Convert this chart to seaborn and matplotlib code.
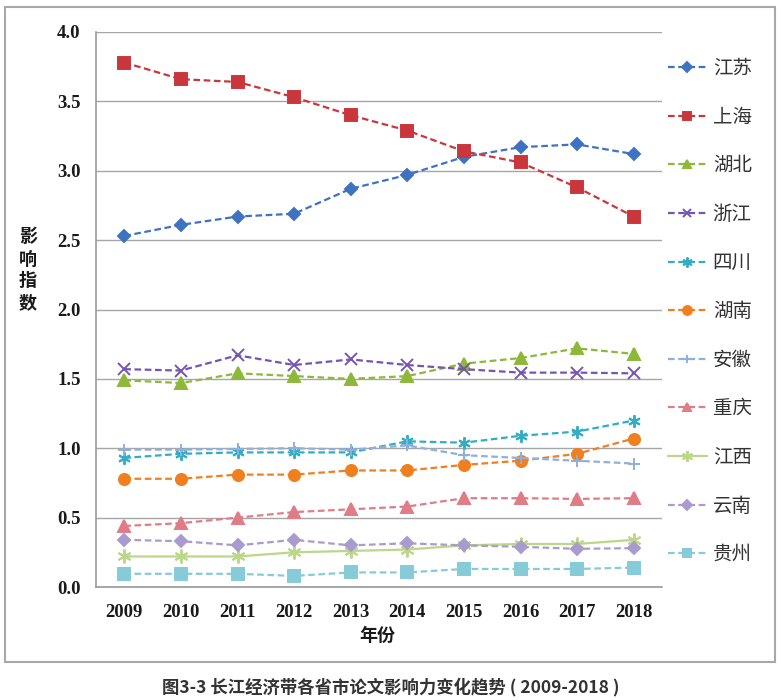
import numpy as np
import pandas as pd
import matplotlib
matplotlib.use("Agg")
import matplotlib.pyplot as plt
import seaborn as sns
from matplotlib.patches import Rectangle

# ---------------- data ----------------
years = ["2009", "2010", "2011", "2012", "2013", "2014", "2015", "2016", "2017", "2018"]
provinces = ["江苏", "上海", "湖北", "浙江", "四川", "湖南", "安徽", "重庆", "江西", "云南", "贵州"]

jiangsu  = [2.53, 2.61, 2.67, 2.69, 2.87, 2.97, 3.10, 3.17, 3.19, 3.12]
shanghai = [3.78, 3.66, 3.64, 3.53, 3.40, 3.29, 3.14, 3.06, 2.88, 2.67]
hubei    = [1.49, 1.47, 1.54, 1.52, 1.50, 1.52, 1.61, 1.65, 1.72, 1.68]
zhejiang = [1.57, 1.56, 1.67, 1.60, 1.64, 1.60, 1.57, 1.545, 1.545, 1.54]
sichuan  = [0.93, 0.96, 0.97, 0.97, 0.97, 1.05, 1.04, 1.09, 1.12, 1.20]
hunan    = [0.78, 0.78, 0.81, 0.81, 0.84, 0.84, 0.88, 0.91, 0.96, 1.07]
anhui    = [0.99, 0.99, 0.995, 1.00, 0.99, 1.02, 0.95, 0.93, 0.91, 0.89]
chongqing= [0.44, 0.46, 0.50, 0.54, 0.56, 0.58, 0.64, 0.64, 0.635, 0.64]
jiangxi  = [0.22, 0.22, 0.22, 0.25, 0.26, 0.27, 0.30, 0.31, 0.31, 0.34]
yunnan   = [0.34, 0.33, 0.30, 0.34, 0.30, 0.315, 0.30, 0.29, 0.275, 0.28]
guizhou  = [0.095, 0.095, 0.095, 0.08, 0.105, 0.105, 0.13, 0.13, 0.13, 0.14]

series_values = [jiangsu, shanghai, hubei, zhejiang, sichuan, hunan,
                 anhui, chongqing, jiangxi, yunnan, guizhou]

# ---------------- styles ----------------
colors = ["#3F73C2", "#C9373D", "#8DB83A", "#7455B0", "#2FAEC4", "#F07F1F",
          "#8FB0DC", "#E07C86", "#BCD68A", "#A99BD0", "#86CBD8"]
markers = ["D", "s", "^", "x", (6, 2, 0), "o", "+", "^", (6, 2, 0), "D", "s"]
msizes = [6, 8, 8, 8, 9, 8, 8, 8, 10, 6.5, 8]
dash = (0, (3, 1.6))
lstyles = [dash] * 11
lstyles[8] = "-"

sns.set_style("white")
plt.rcParams["font.family"] = ["Noto Sans CJK SC", "DejaVu Sans"]

W, H = 781, 700
fig = plt.figure(figsize=(W / 100, H / 100), dpi=100)
ax_l, ax_r, ax_t, ax_b = 96, 662, 32, 587
ax = fig.add_axes([ax_l / W, 1 - ax_b / H, (ax_r - ax_l) / W, (ax_b - ax_t) / H])

xpos = np.arange(len(years))
for name, vals, c, m, ls, ms in zip(provinces, series_values, colors, markers, lstyles, msizes):
    df = pd.DataFrame({"x": xpos, "v": vals})
    sns.lineplot(data=df, x="x", y="v", ax=ax, color=c, marker=m, linestyle=ls,
                 linewidth=1.6, markersize=ms, markeredgecolor=c, markerfacecolor=c,
                 markeredgewidth=1.4, label=name, legend=False)

grey = "#9a9a9a"
ax.set_xlim(-0.5, len(years) - 0.5)
ax.set_ylim(0, 4.0)
ax.set_yticks(np.arange(0, 4.01, 0.5))
ax.set_yticklabels([f"{v:.1f}" for v in np.arange(0, 4.01, 0.5)],
                   fontfamily="Liberation Serif", fontweight="bold", fontsize=13.5, color="#1a1a1a")
ax.set_xticks(xpos)
ax.set_xticklabels(years, fontfamily="Liberation Serif", fontweight="bold", fontsize=13.5, color="#1a1a1a")
ax.set_xticks(np.arange(-0.5, len(years), 1), minor=True)
ax.tick_params(axis="x", which="major", length=0, pad=12)
ax.tick_params(axis="x", which="minor", length=7, width=1, color=grey, direction="out")
ax.tick_params(axis="y", length=7, width=1, color=grey, direction="out", pad=4)
ax.yaxis.grid(True, color="#a6a6a6", linewidth=1)
ax.xaxis.grid(False)
for s in ["top", "right"]:
    ax.spines[s].set_visible(False)
for s in ["left", "bottom"]:
    ax.spines[s].set_color(grey)
    ax.spines[s].set_linewidth(1.2)

ax.set_ylabel("影\n响\n指\n数", rotation=0, fontsize=13, fontweight="bold",
              color="#1a1a1a", va="center", ha="center", linespacing=1.2)
ax.yaxis.set_label_coords((28 - ax_l) / (ax_r - ax_l), (ax_b - 270) / (ax_b - ax_t))
ax.set_xlabel("年份", fontsize=13, fontweight="bold", color="#1a1a1a", va="center")
ax.xaxis.set_label_coords((377 - ax_l) / (ax_r - ax_l), (ax_b - 635) / (ax_b - ax_t))

handles, labels = ax.get_legend_handles_labels()
leg = ax.legend(handles, labels, loc="upper left", bbox_to_anchor=(668 / W, 1 - 58 / H),
                bbox_transform=fig.transFigure, frameon=False, fontsize=14,
                handlelength=2.0, handletextpad=0.3, labelspacing=1.42,
                borderpad=0, borderaxespad=0, markerscale=0.8)
for t in leg.get_texts():
    t.set_color("#333333")

fig.add_artist(Rectangle((5 / W, 1 - 662 / H), 770 / W, 655 / H, transform=fig.transFigure,
                         fill=False, edgecolor="#a8a8a8", linewidth=1.5))

fig.text(391 / W, 1 - 687 / H, "图3-3 长江经济带各省市论文影响力变化趋势 ( 2009-2018 )",
         ha="center", va="center", fontsize=12.5, fontweight="bold", color="#333333")

fig.savefig("out.png", dpi=100)
